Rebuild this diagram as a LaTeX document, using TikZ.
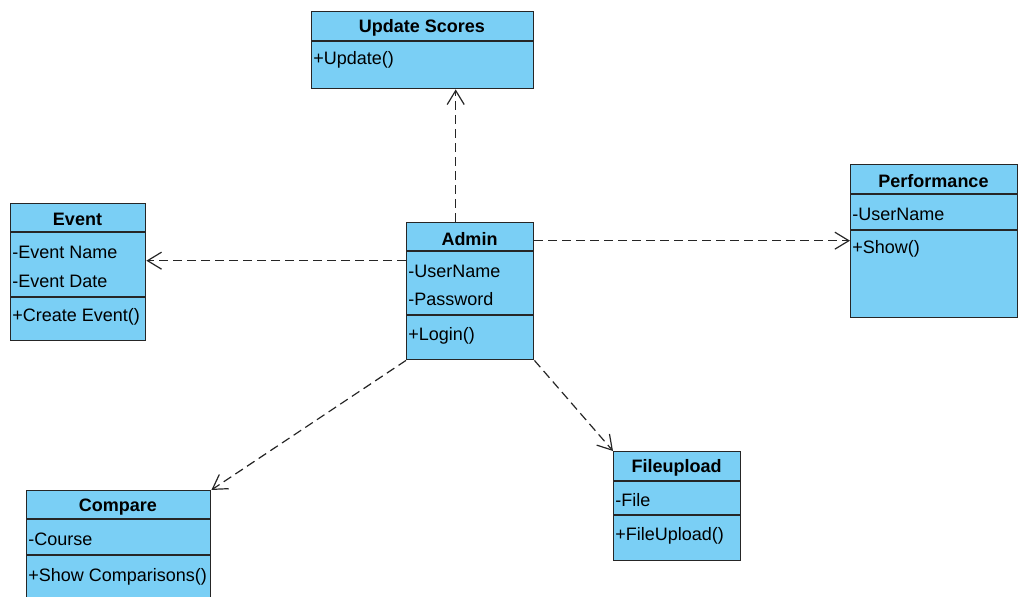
\documentclass[tikz,border=0pt]{standalone}
\usepackage{fontspec}
\setmainfont{Liberation Sans}
\usetikzlibrary{arrows.meta}
\definecolor{umlblue}{RGB}{122,207,245}
\tikzset{
  classbox/.style={rectangle, draw=black!85, fill=umlblue, line width=0.7pt,
    anchor=north west, inner sep=0pt},
  ctitle/.style={inner sep=0pt, font=\fontsize{9}{10}\selectfont\bfseries},
  member/.style={anchor=west, inner sep=0pt, font=\fontsize{9}{10}\selectfont},
  divider/.style={draw=black!85, line width=0.7pt},
  dep/.style={draw=black!85, line width=0.6pt, dash pattern=on 4.5pt off 2.5pt,
    -{Straight Barb[length=7pt,width=8.5pt]}}
}
\begin{document}
\begin{tikzpicture}[x=0.5pt,y=-0.5pt]
    \useasboundingbox (0,0) rectangle (1019,597);

    % class boxes
    \node[classbox, minimum width=111pt, minimum height=38.5pt] (upd) at (311,11) {};
    \node[classbox, minimum width=67.5pt, minimum height=68.5pt] (event) at (10,203) {};
    \node[classbox, minimum width=63.5pt, minimum height=68.5pt] (admin) at (406,222) {};
    \node[classbox, minimum width=83.5pt, minimum height=76.5pt] (perf) at (850,164) {};
    \node[classbox, minimum width=92pt, minimum height=57.5pt] (comp) at (26,490) {};
    \node[classbox, minimum width=63.5pt, minimum height=54.5pt] (fup) at (613,451) {};

    % compartments
    \path[divider] (upd.west |- 0,41) -- (upd.east |- 0,41);
    \path[divider] (event.west |- 0,232) -- (event.east |- 0,232);
    \path[divider] (event.west |- 0,297) -- (event.east |- 0,297);
    \path[divider] (admin.west |- 0,251) -- (admin.east |- 0,251);
    \path[divider] (admin.west |- 0,315) -- (admin.east |- 0,315);
    \path[divider] (perf.west |- 0,194) -- (perf.east |- 0,194);
    \path[divider] (perf.west |- 0,230) -- (perf.east |- 0,230);
    \path[divider] (comp.west |- 0,519) -- (comp.east |- 0,519);
    \path[divider] (comp.west |- 0,555) -- (comp.east |- 0,555);
    \path[divider] (fup.west |- 0,481) -- (fup.east |- 0,481);
    \path[divider] (fup.west |- 0,515) -- (fup.east |- 0,515);

    % names and members
    \begin{scope}[yshift=-1pt]
    \node[ctitle] (upd-t) at (422,26) {Update Scores};
    \node[member] (upd-m1) at (313,58) {+Update()};

    \node[ctitle] (event-t) at (77.5,217) {Event};
    \node[member] (event-a1) at (12,250) {-Event Name};
    \node[member] (event-a2) at (12,279) {-Event Date};
    \node[member] (event-m1) at (12,315) {+Create Event()};

    \node[ctitle] (admin-t) at (469.5,237) {Admin};
    \node[member] (admin-a1) at (408,269) {-UserName};
    \node[member] (admin-a2) at (408,297) {-Password};
    \node[member] (admin-m1) at (408,334) {+Login()};

    \node[ctitle] (perf-t) at (933.5,179) {Performance};
    \node[member] (perf-a1) at (852,212) {-UserName};
    \node[member] (perf-m1) at (852,247) {+Show()};

    \node[ctitle] (comp-t) at (118,505) {Compare};
    \node[member] (comp-a1) at (28,537) {-Course};
    \node[member] (comp-m1) at (28,575) {+Show Comparisons()};

    \node[ctitle] (fup-t) at (676.5,466) {Fileupload};
    \node[member] (fup-a1) at (615,498) {-File};
    \node[member] (fup-m1) at (615,534) {+FileUpload()};
    \end{scope}

    % dependencies
    \draw[dep] ([xshift=-7.25pt]admin.north) -- ([xshift=-7.25pt]admin.north |- upd.south);
    \draw[dep] ([yshift=15.25pt]admin.west) -- ([yshift=15.25pt]admin.west -| event.east);
    \draw[dep] ([yshift=25.25pt]admin.east) -- ([yshift=25.25pt]admin.east -| perf.west);
    \draw[dep] (admin.south west) -- (comp.north east);
    \draw[dep] (admin.south east) -- (fup.north west);
\end{tikzpicture}
\end{document}
